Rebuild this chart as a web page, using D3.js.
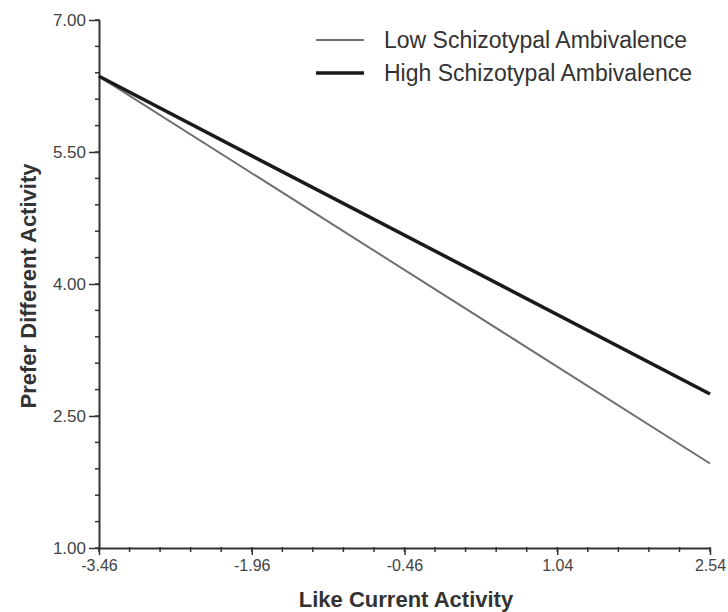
<!DOCTYPE html>
<html><head><meta charset="utf-8">
<script src="https://cdn.jsdelivr.net/npm/d3@7"></script>
<style>body{margin:0;background:#fff}</style>
</head><body>
<svg id="c" width="728" height="612"></svg>
<script>
const xValues = [-3.46, 2.54];
const seriesNames = ["Low Schizotypal Ambivalence", "High Schizotypal Ambivalence"];
const lowValues = [6.36, 1.96];
const highValues = [6.36, 2.75];
const xTickLabels = [-3.46, -1.96, -0.46, 1.04, 2.54];
const yTickLabels = [1.00, 2.50, 4.00, 5.50, 7.00];

const svg = d3.select("#c");
const x = d3.scaleLinear().domain([-3.46, 2.54]).range([99, 710]);
const y = d3.scaleLinear().domain([1, 7]).range([548, 20]);
const font = "Arial, 'Liberation Sans', sans-serif";
const fmt = d => d.toFixed(2);

const xMinor = d3.range(0, 21).map(i => -3.46 + i * 0.3);
const yMinor = d3.range(0, 21).map(i => 1 + i * 0.3);

const gx = svg.append("g").attr("transform", `translate(0,${y(1)})`);
gx.selectAll("line.m").data(xMinor).join("line").attr("class", "m")
  .attr("x1", d => x(d)).attr("x2", d => x(d)).attr("y1", -1).attr("y2", 4)
  .attr("stroke", "#333").attr("stroke-width", 1.5);
gx.call(d3.axisBottom(x).tickValues(xTickLabels).tickFormat(fmt).tickSize(7).tickSizeOuter(0));
gx.select(".domain").attr("stroke", "#333").attr("stroke-width", 2);
gx.selectAll(".tick line").attr("stroke", "#333").attr("stroke-width", 1.5);
gx.selectAll(".tick text").style("font-family", font).style("font-size", "16px").attr("fill", "#444").attr("y", 12).attr("dy", "0.71em");

const gy = svg.append("g").attr("transform", `translate(${x(-3.46)},0)`);
gy.selectAll("line.m").data(yMinor).join("line").attr("class", "m")
  .attr("x1", 1).attr("x2", -4).attr("y1", d => y(d)).attr("y2", d => y(d))
  .attr("stroke", "#333").attr("stroke-width", 1.5);
gy.call(d3.axisLeft(y).tickValues(yTickLabels).tickFormat(fmt).tickSize(10).tickSizeOuter(0));
gy.select(".domain").attr("stroke", "#333").attr("stroke-width", 2);
gy.selectAll(".tick line").attr("stroke", "#333").attr("stroke-width", 1.5);
gy.selectAll(".tick text").style("font-family", font).style("font-size", "17px").attr("fill", "#444").attr("x", -13);

const line = d3.line().x((d, i) => x(xValues[i])).y(d => y(d));
svg.append("path").datum(lowValues).attr("d", line).attr("fill", "none").attr("stroke", "#707070").attr("stroke-width", 2);
svg.append("path").datum(highValues).attr("d", line).attr("fill", "none").attr("stroke", "#1a1a1a").attr("stroke-width", 3.5);

const leg = [{name: seriesNames[0], c: "#707070", w: 2, yy: 40}, {name: seriesNames[1], c: "#1a1a1a", w: 3.5, yy: 73}];
leg.forEach(l => {
  svg.append("line").attr("x1", 316).attr("x2", 364).attr("y1", l.yy).attr("y2", l.yy).attr("stroke", l.c).attr("stroke-width", l.w);
  svg.append("text").attr("x", 384).attr("y", l.yy).attr("dy", "0.35em").style("font-family", font).style("font-size", "23px").attr("fill", "#333").text(l.name);
});

svg.append("text").attr("x", 406).attr("y", 607).attr("text-anchor", "middle").style("font-family", font).style("font-size", "22px").attr("font-weight", "bold").attr("fill", "#333").text("Like Current Activity");
svg.append("text").attr("transform", "translate(36,286) rotate(-90)").attr("text-anchor", "middle").style("font-family", font).style("font-size", "22px").attr("font-weight", "bold").attr("fill", "#333").text("Prefer Different Activity");
</script>
</body></html>
